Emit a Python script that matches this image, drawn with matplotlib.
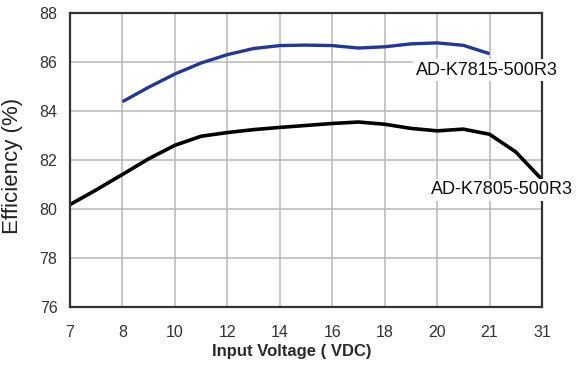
import numpy as np
from matplotlib import pyplot as plt

plt.rcParams['font.family'] = ['Liberation Sans', 'DejaVu Sans']

# x axis categories (evenly spaced on the chart)
voltages = ['7', '8', '10', '12', '14', '16', '18', '20', '21', '31']

# curve readings, position in category steps
pos_k7815 = [1, 1.5, 2, 2.5, 3, 3.5, 4, 4.5, 5, 5.5, 6, 6.5, 7, 7.5, 8]
eff_k7815 = [84.38, 84.97, 85.51, 85.96, 86.30, 86.55, 86.67, 86.69, 86.67,
             86.57, 86.62, 86.74, 86.78, 86.68, 86.34]

pos_k7805 = [0, 0.5, 1, 1.5, 2, 2.5, 3, 3.5, 4, 4.5, 5, 5.5, 6, 6.5, 7, 7.5, 8, 8.5, 9]
eff_k7805 = [80.18, 80.78, 81.41, 82.05, 82.60, 82.97, 83.12, 83.24, 83.33, 83.41,
             83.49, 83.55, 83.46, 83.29, 83.19, 83.26, 83.05, 82.33, 81.20]

fig=plt.figure(figsize=(5.76,3.65),dpi=100)
ax=fig.add_axes([70/576, 1-307/365, 472/576, 294/365])

ax.plot(pos_k7815, eff_k7815, color='#21389a', lw=2.4, solid_capstyle='butt', solid_joinstyle='round')
ax.plot(pos_k7805, eff_k7805, color='black', lw=2.6, solid_capstyle='butt', solid_joinstyle='round')

ax.set_xlim(0, len(voltages)-1)
ax.set_ylim(76, 88)
ax.set_xticks(np.arange(len(voltages)))
ax.set_xticklabels(voltages)
ax.set_yticks(np.arange(76, 89, 2))
ax.tick_params(length=0, labelsize=11.5, labelcolor='#333333')
ax.tick_params(axis='x', pad=13)
ax.tick_params(axis='y', pad=9)
ax.grid(True, color='#b8b8b8', lw=1.1)
ax.set_axisbelow(True)
for s in ax.spines.values():
	s.set_color('#333333')
	s.set_linewidth(1.6)

ax.text(7.94, 85.67, 'AD-K7815-500R3', fontsize=13, color='#111111', ha='center', va='center',
	bbox=dict(facecolor='white', edgecolor='none', pad=2))
ax.text(8.23, 80.78, 'AD-K7805-500R3', fontsize=13, color='#111111', ha='center', va='center',
	bbox=dict(facecolor='white', edgecolor='none', pad=2), clip_on=False)

ax.set_xlabel('Input Voltage ( VDC)', fontsize=12, fontweight='bold', color='#2a2a2a')
ax.xaxis.set_label_coords(0.47, -0.125)
ax.set_ylabel('Efficiency (%)', fontsize=16, color='#222222')
ax.yaxis.set_label_coords(-0.1, 0.48)

plt.savefig('out.png')
